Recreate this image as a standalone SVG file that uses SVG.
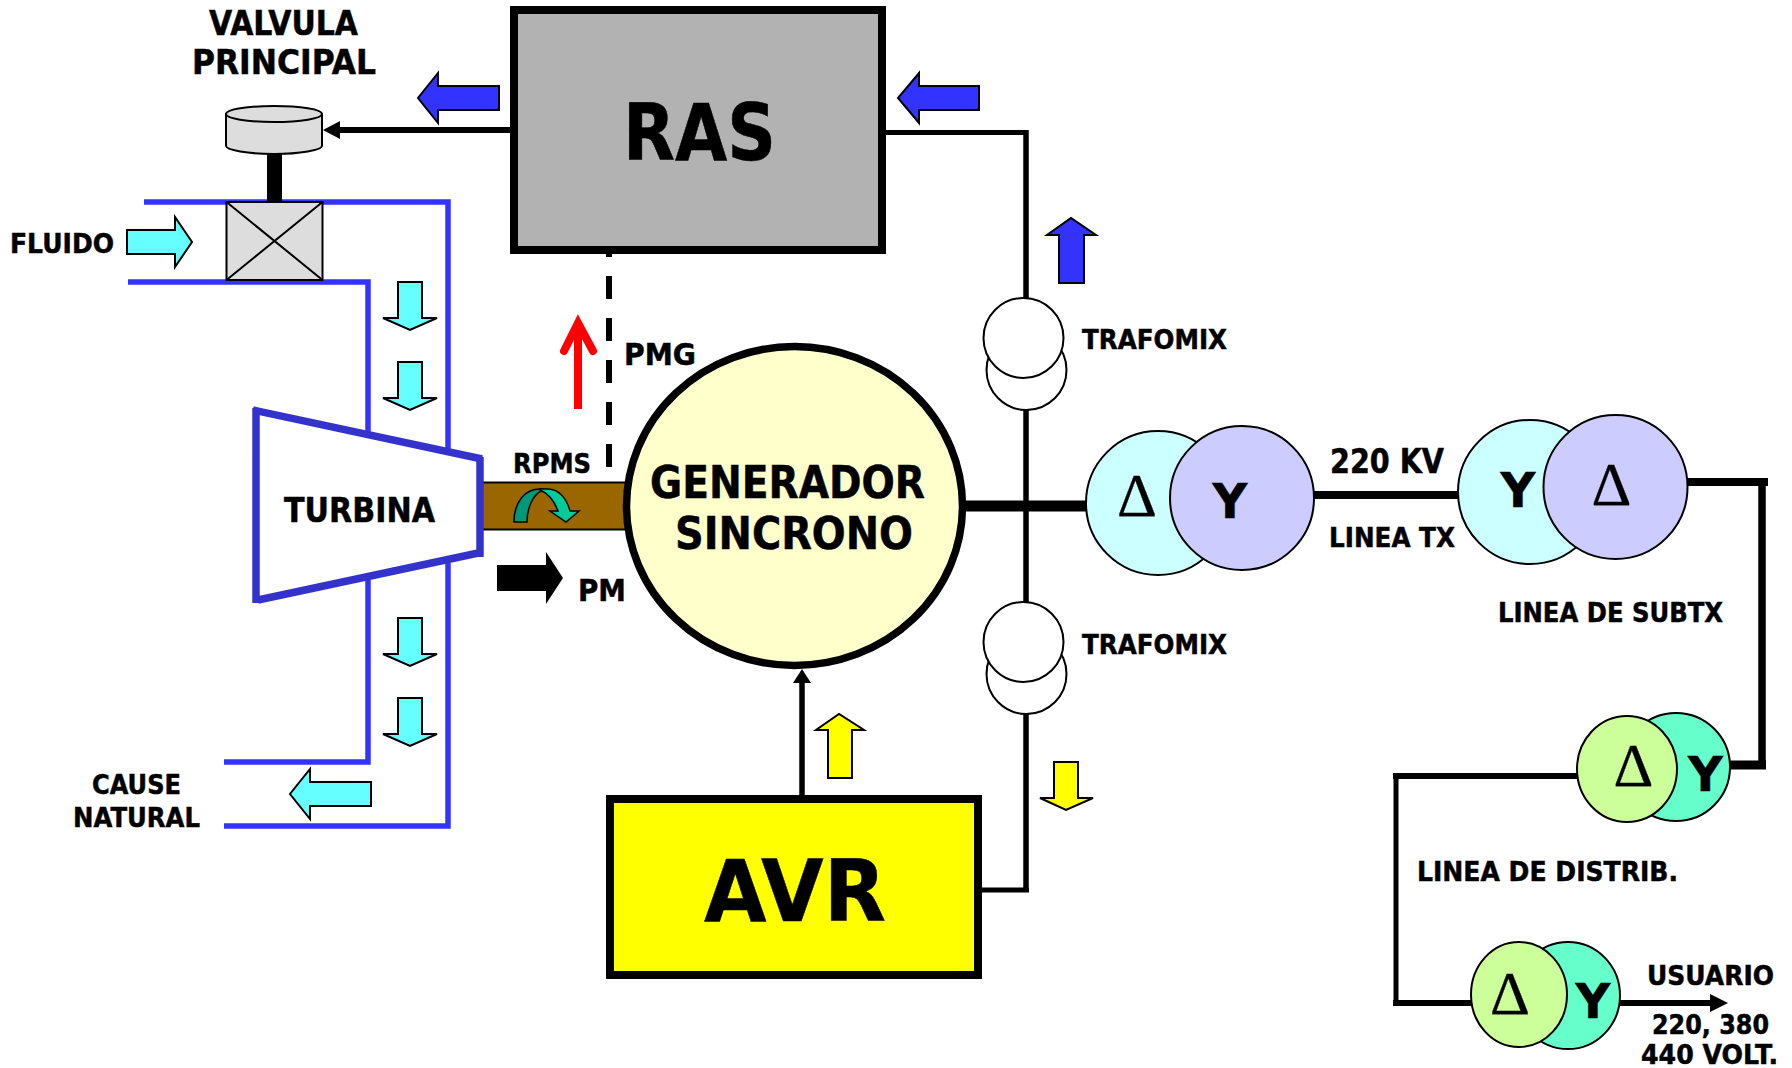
<svg xmlns="http://www.w3.org/2000/svg" width="1792" height="1068" viewBox="0 0 1792 1068">
<style>
text{font-family:"DejaVu Sans","Liberation Sans",sans-serif;font-weight:700;fill:#000;stroke:#000;stroke-width:.5px}
.s25{font-size:26.500px}.s29{font-size:30.500px}.s31{font-size:33px}.s41{font-size:44px}
.d{font-family:"Liberation Serif",serif;font-weight:400;font-size:62px;text-anchor:middle;stroke-width:.3px}
.y{font-size:48px;text-anchor:middle}
.w{fill:none;stroke:#000;stroke-linecap:butt}
.p{fill:none;stroke:#3333ff;stroke-width:5.5}
.c{stroke:#000;stroke-width:2}
.cy{fill:#66ffff;stroke:#000;stroke-width:2}
.bl{fill:#3333ff;stroke:#000;stroke-width:2}
.ye{fill:#ffff00;stroke:#000;stroke-width:2}
</style>
<defs>
<path id="down" d="M398,282H422V318H437L410,330L383,318H398Z"/>
</defs>
<g id="connectors">
<path class="w" stroke-width="6" d="M510,130H336"/>
<path d="M323,130L340,121V139Z"/>
<path class="w" stroke-width="5" d="M886,132.500H1028"/>
<path class="w" stroke-width="5.500" d="M1026,130V300"/>
<path class="w" stroke-width="5.500" d="M1026,405V602"/>
<path class="w" stroke-width="5.500" d="M1026,710V892"/>
<path class="w" stroke-width="5" d="M982,890H1029"/>
<path class="w" stroke-width="6" stroke-dasharray="23 19" d="M609,234V467"/>
<path class="w" stroke-width="11" d="M964,506H1087"/>
<path class="w" stroke-width="8" d="M1312,495H1460"/>
<path class="w" stroke-width="8" d="M1686,482H1768"/>
<path class="w" stroke-width="7.500" d="M1762,478V769"/>
<path class="w" stroke-width="9" d="M1728,765H1766"/>
<path class="w" stroke-width="6" d="M1579,776H1393"/>
<path class="w" stroke-width="5" d="M1396,773V1006"/>
<path class="w" stroke-width="6" d="M1393,1003H1473"/>
<path class="w" stroke-width="6" d="M1618,1003H1712"/>
<path d="M1728,1003L1710,994V1012Z"/>
<path class="w" stroke-width="5.500" d="M802,797V680"/>
<path d="M802,669L811,683H793Z"/>
</g>
<g id="pipes">
<path class="p" d="M144,202H448V457"/>
<path class="p" d="M128,282H368V442"/>
<path class="p" d="M448,563V826H224"/>
<path class="p" d="M368,580V762H224"/>
</g>
<g id="flow-arrows">
<path class="cy" d="M127,230H175V217L192,242L175,267V254H127Z"/>
<use href="#down" class="cy"/>
<use href="#down" class="cy" y="80"/>
<use href="#down" class="cy" y="336"/>
<use href="#down" class="cy" y="416"/>
<path class="cy" d="M371,782H310V769L290,794L310,819V806H371Z"/>
<path class="bl" d="M499,86H438V73L418,98L438,123V110H499Z"/>
<path class="bl" d="M979,86H919V73L898,98L919,123V110H979Z"/>
<path class="bl" d="M1059,283V235H1047L1071,218L1096,235H1084V283Z"/>
<path class="ye" d="M828,778V730H816L839,714L864,730H852V778Z"/>
<path class="ye" d="M1054,762H1078V798H1093L1066,810L1040,798H1054Z"/>
<path d="M497,565H546V552L563,578L546,604V591H497Z"/>
<polyline points="564,351 578,323 593,351" fill="none" stroke="#ff0000" stroke-width="8" stroke-linecap="round" stroke-linejoin="miter"/>
<path d="M578,325V409" stroke="#ff0000" stroke-width="8" fill="none"/>
</g>
<g id="valvula">
<rect x="267" y="150" width="15" height="54"/>
<path d="M226,114V146C226,150 248,154 274,154C300,154 322,150 322,146V114Z" fill="#dddddd" class="c"/>
<ellipse cx="274" cy="114" rx="48" ry="8" fill="#dddddd" class="c"/>
<rect x="226.500" y="202" width="96" height="78" fill="#dddddd" class="c"/>
<path class="c" fill="none" d="M226.500,202L322.500,280M322.500,202L226.500,280"/>
<text class="s31" x="209" y="34.500" textLength="149" lengthAdjust="spacingAndGlyphs">VALVULA</text>
<text class="s31" x="192" y="74" textLength="184" lengthAdjust="spacingAndGlyphs">PRINCIPAL</text>
</g>
<g id="fluido"><text class="s25" x="10" y="253" textLength="104" lengthAdjust="spacingAndGlyphs">FLUIDO</text></g>
<g id="cause"><text class="s25" x="92" y="794" textLength="89" lengthAdjust="spacingAndGlyphs">CAUSE</text>
<text class="s25" x="73" y="827" textLength="127" lengthAdjust="spacingAndGlyphs">NATURAL</text></g>
<g id="eje">
<rect x="482" y="482.500" width="145" height="47" fill="#996600" stroke="#000" stroke-width="2"/>
<path d="M514,522C514,502 525,489 540,489C546,489 548,492 541,491C533,495 527,508 527,522Z" fill="#009977" stroke="#000" stroke-width="1.500"/>
<path d="M540,489H548C560,489 567,500 570,511H579L566,522L550,511H558C555,503 550,494 540,490Z" fill="#00cc99" stroke="#000" stroke-width="1.500"/>
<text class="s25" x="513" y="473" textLength="78" lengthAdjust="spacingAndGlyphs">RPMS</text>
<text class="s29" x="578" y="601" textLength="48" lengthAdjust="spacingAndGlyphs">PM</text>
</g>
<g id="turbina">
<path fill="#fff" stroke="none" d="M256,410L480,457V555L256,602Z"/>
<path fill="none" stroke="#3333cc" stroke-width="7.500" d="M256,408V603M253,410L482,459M480,457V557M258,600L483,552"/>
<text class="s31" x="284" y="522" textLength="151" lengthAdjust="spacingAndGlyphs">TURBINA</text>
</g>
<g id="ras">
<rect x="514" y="10" width="368" height="240" fill="#b2b2b2" stroke="#000" stroke-width="8"/>
<text x="623" y="160" font-size="78" textLength="153" lengthAdjust="spacingAndGlyphs">RAS</text>
</g>
<g id="pmg"><text class="s29" x="624" y="365" textLength="72" lengthAdjust="spacingAndGlyphs">PMG</text></g>
<g id="generador">
<ellipse cx="794.500" cy="506" rx="168" ry="159.500" fill="#ffffcc" stroke="#000" stroke-width="7.500"/>
<text class="s41" x="650" y="498" textLength="275" lengthAdjust="spacingAndGlyphs">GENERADOR</text>
<text class="s41" x="675" y="549" textLength="238" lengthAdjust="spacingAndGlyphs">SINCRONO</text>
</g>
<g id="avr">
<rect x="610" y="799" width="368" height="176" fill="#ffff00" stroke="#000" stroke-width="8"/>
<text x="704" y="921" font-size="85" textLength="182" lengthAdjust="spacingAndGlyphs">AVR</text>
</g>
<g id="trafomix-1">
<circle cx="1026.500" cy="370" r="40" fill="#fff" class="c"/>
<circle cx="1023.500" cy="338" r="40" fill="#fff" class="c"/>
<text class="s25" x="1082" y="349" textLength="145" lengthAdjust="spacingAndGlyphs">TRAFOMIX</text>
</g>
<g id="trafomix-2">
<circle cx="1026.500" cy="674" r="40" fill="#fff" class="c"/>
<circle cx="1023.500" cy="642" r="40" fill="#fff" class="c"/>
<text class="s25" x="1082" y="654" textLength="145" lengthAdjust="spacingAndGlyphs">TRAFOMIX</text>
</g>
<g id="trafo-1">
<circle cx="1158" cy="503" r="72" fill="#ccffff" class="c"/>
<circle cx="1242" cy="498" r="72" fill="#ccccff" class="c"/>
<text class="d" x="1137" y="516">Δ</text>
<text class="y" x="1230" y="518">Y</text>
</g>
<g id="trafo-2">
<circle cx="1530" cy="492" r="72" fill="#ccffff" class="c"/>
<circle cx="1615.500" cy="487" r="72" fill="#ccccff" class="c"/>
<text class="y" x="1518" y="507">Y</text>
<text class="d" x="1611.500" y="505">Δ</text>
</g>
<g id="trafo-3">
<ellipse cx="1676" cy="767" rx="54" ry="54" fill="#66ffcc" class="c"/>
<ellipse cx="1627" cy="769" rx="50" ry="53" fill="#ccff99" class="c"/>
<text class="y" x="1705.500" y="791">Y</text>
<text class="d" x="1633.500" y="786">Δ</text>
</g>
<g id="trafo-4">
<ellipse cx="1568" cy="995.500" rx="52" ry="53.500" fill="#66ffcc" class="c"/>
<ellipse cx="1519" cy="994.500" rx="48" ry="52.500" fill="#ccff99" class="c"/>
<text class="y" x="1593" y="1018">Y</text>
<text class="d" x="1510" y="1014">Δ</text>
</g>
<g id="labels">
<text x="1330" y="473" font-size="33" textLength="114" lengthAdjust="spacingAndGlyphs">220 KV</text>
<text class="s25" x="1329" y="547" textLength="126" lengthAdjust="spacingAndGlyphs">LINEA TX</text>
<text class="s25" x="1498" y="622" textLength="225" lengthAdjust="spacingAndGlyphs">LINEA DE SUBTX</text>
<text class="s25" x="1417" y="881" textLength="261" lengthAdjust="spacingAndGlyphs">LINEA DE DISTRIB.</text>
<text class="s25" x="1647" y="985" textLength="127" lengthAdjust="spacingAndGlyphs">USUARIO</text>
<text class="s25" x="1652" y="1034" textLength="117" lengthAdjust="spacingAndGlyphs">220, 380</text>
<text class="s25" x="1641" y="1064" textLength="137" lengthAdjust="spacingAndGlyphs">440 VOLT.</text>
</g>
</svg>
